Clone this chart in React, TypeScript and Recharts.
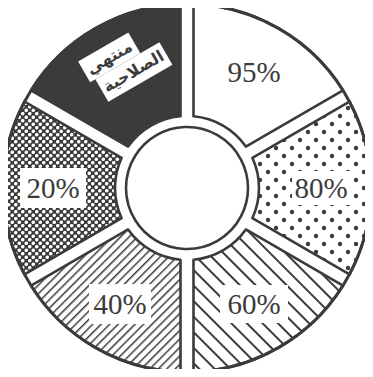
import { PieChart, Pie } from "recharts";

// segments, clockwise from the top
const segments = ["95%", "80%", "60%", "40%", "20%", "منتهي الصلاحية"];
const shares = [1, 1, 1, 1, 1, 1];
const expiredLines = ["منتهي", "الصلاحية"];

const fills = [
  "#ffffff",
  "url(#dots)",
  "url(#wideHatch)",
  "url(#fineHatch)",
  "url(#holes)",
  "#3b3b3b",
];
const boxSizes = [
  [0, 0],
  [58, 34],
  [68, 38],
  [62, 40],
  [66, 40],
  [0, 0],
];

const data = segments.map((name, i) => ({ name, value: shares[i] }));
const ring = [{ name: "ring", value: 1 }];

const INK = "#3b3b3b";
const CX = 187;
const CY = 188;
const R_OUT = 184;
const R_IN = 72;
const R_HOLE = 61;
const HALF_GAP = 6.5;
const LABEL_R = 134;
const RAD = Math.PI / 180;

const pt = (cx: number, cy: number, r: number, a: number) => [
  cx + r * Math.cos(a * RAD),
  cy - r * Math.sin(a * RAD),
];

// sector with edges pushed in parallel, so the white gaps keep one width
function Segment(props: any) {
  const { cx, cy, innerRadius, outerRadius, startAngle, endAngle, index } = props;
  const dir = endAngle < startAngle ? -1 : 1;
  const off = (r: number) => Math.asin(HALF_GAP / r) / RAD;
  const so = startAngle + dir * off(outerRadius);
  const eo = endAngle - dir * off(outerRadius);
  const si = startAngle + dir * off(innerRadius);
  const ei = endAngle - dir * off(innerRadius);
  const sweep = dir < 0 ? 1 : 0;
  const [x1, y1] = pt(cx, cy, outerRadius, so);
  const [x2, y2] = pt(cx, cy, outerRadius, eo);
  const [x3, y3] = pt(cx, cy, innerRadius, ei);
  const [x4, y4] = pt(cx, cy, innerRadius, si);
  const d = `M${x1},${y1} A${outerRadius},${outerRadius} 0 0 ${sweep} ${x2},${y2} L${x3},${y3} A${innerRadius},${innerRadius} 0 0 ${1 - sweep} ${x4},${y4} Z`;
  return <path d={d} fill={fills[index]} stroke={INK} strokeWidth={2.6} strokeLinejoin="round" />;
}

function SegmentLabel(props: any) {
  const { cx, cy, midAngle, index } = props;
  const [x, y] = pt(cx, cy, LABEL_R, midAngle);
  if (index === 5) {
    return (
      <g transform={`translate(${x + 8},${y - 8}) rotate(-30)`}>
        <rect x={-42} y={-27} width={58} height={24} fill="#fff" />
        <rect x={-36} y={-3} width={74} height={26} fill="#fff" />
        <text x={-13} y={-15} textAnchor="middle" dominantBaseline="central" fontFamily="DejaVu Sans" fontWeight="bold" fontSize={16} fill={INK}>
          {expiredLines[0]}
        </text>
        <text x={1} y={9} textAnchor="middle" dominantBaseline="central" fontFamily="DejaVu Sans" fontWeight="bold" fontSize={16} fill={INK}>
          {expiredLines[1]}
        </text>
      </g>
    );
  }
  const [w, h] = boxSizes[index];
  return (
    <g>
      {w > 0 && <rect x={x - w / 2} y={y - h / 2} width={w} height={h} fill="#fff" />}
      <text x={x} y={y} textAnchor="middle" dominantBaseline="central" fontFamily="Liberation Serif" fontSize={29} fill={INK}>
        {segments[index]}
      </text>
    </g>
  );
}

export default function App() {
  return (
    <div style={{ margin: -8, background: "#fff" }}>
      <PieChart width={373} height={377} margin={{ top: 0, right: 0, bottom: 0, left: 0 }}>
        <defs>
          <pattern id="dots" patternUnits="userSpaceOnUse" width={16} height={16}>
            <rect width={16} height={16} fill="#fff" />
            <circle cx={4} cy={4} r={2.2} fill={INK} />
            <circle cx={12} cy={12} r={2.2} fill={INK} />
          </pattern>
          <pattern id="wideHatch" patternUnits="userSpaceOnUse" width={11} height={11} patternTransform="rotate(-45)">
            <rect width={11} height={11} fill="#fff" />
            <line x1={0} y1={0} x2={0} y2={11} stroke={INK} strokeWidth={4} />
          </pattern>
          <pattern id="fineHatch" patternUnits="userSpaceOnUse" width={6} height={6} patternTransform="rotate(45)">
            <rect width={6} height={6} fill="#fff" />
            <line x1={0} y1={0} x2={0} y2={6} stroke={INK} strokeWidth={3} />
          </pattern>
          <pattern id="holes" patternUnits="userSpaceOnUse" width={7} height={7}>
            <rect width={7} height={7} fill={INK} />
            <circle cx={1.75} cy={1.75} r={1.8} fill="#fff" />
            <circle cx={5.25} cy={5.25} r={1.8} fill="#fff" />
          </pattern>
        </defs>
        <Pie
          data={data}
          dataKey="value"
          cx={CX}
          cy={CY}
          innerRadius={R_IN}
          outerRadius={R_OUT}
          startAngle={90}
          endAngle={-270}
          shape={Segment}
          label={SegmentLabel}
          labelLine={false}
          isAnimationActive={false}
        />
        <Pie
          data={ring}
          dataKey="value"
          cx={CX}
          cy={CY}
          innerRadius={R_OUT}
          outerRadius={R_OUT}
          fill="none"
          stroke={INK}
          strokeWidth={3}
          isAnimationActive={false}
        />
        <Pie
          data={ring}
          dataKey="value"
          cx={CX}
          cy={CY}
          innerRadius={R_HOLE}
          outerRadius={R_HOLE}
          fill="none"
          stroke={INK}
          strokeWidth={2.6}
          isAnimationActive={false}
        />
      </PieChart>
    </div>
  );
}
